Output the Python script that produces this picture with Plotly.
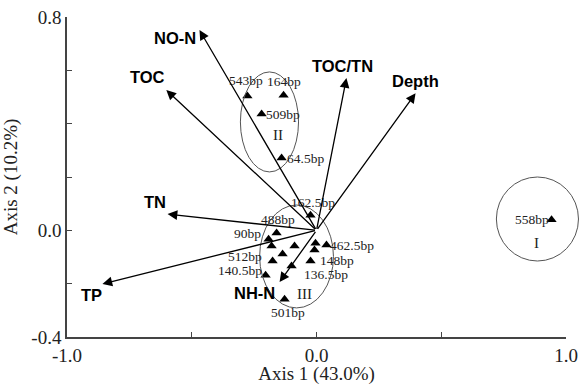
import plotly.graph_objects as go

# ---- data ----
site_labels = ["543bp", "164bp", "509bp", "64.5bp", "162.5bp", "488bp", "90bp", "", "", "",
               "512bp", "140.5bp", "", "", "148bp", "462.5bp", "136.5bp", "501bp", "558bp"]
site_x = [-0.277, -0.132, -0.220, -0.140, -0.024, -0.160, -0.192, -0.180, -0.088, -0.136,
          -0.176, -0.204, -0.100, -0.004, -0.008, 0.040, -0.024, -0.128, 0.942]
site_y = [0.504, 0.507, 0.436, 0.271, 0.057, -0.010, -0.033, -0.059, -0.059, -0.089,
          -0.115, -0.168, -0.134, -0.048, -0.074, -0.055, -0.115, -0.258, 0.040]
# label offsets in pixels (style)
site_label_shift = [(-1, 15), (0, 14), (21, 0), (24, 0), (2, 13), (1, 14), (-21, 6), (0, 0),
                    (0, 0), (0, 0), (-28, 5), (-26, 5), (0, 0), (0, 0), (22, -10), (26, 0),
                    (15, -13), (3, -13), (-20, 0)]

env_names = ["NO-N", "TOC", "TOC/TN", "Depth", "TN", "TP", "NH-N"]
env_x = [-0.469, -0.602, 0.120, 0.397, -0.597, -0.858, -0.148]
env_y = [0.751, 0.526, 0.571, 0.514, 0.061, -0.201, -0.194]
env_label_shift = [(-24, -8), (-19, 13), (-4, 12), (0, 12), (-13, 12), (-11, -11), (-25, -11)]

group_names = ["I", "II", "III"]
group_x0 = [0.721, -0.305, -0.228]
group_x1 = [1.050, -0.072, 0.068]
group_y0 = [-0.115, 0.219, -0.291]
group_y1 = [0.200, 0.594, 0.095]
group_label_x = [0.882, -0.156, -0.048]
group_label_y = [-0.048, 0.357, -0.239]

x_range = [-1.0, 1.0]
y_range = [-0.4, 0.8]
x_tickvals = [-1.0, -0.5, 0.0, 0.5, 1.0]
x_ticktext = ["-1.0", "", "0.0", "", "1.0"]
y_tickvals = [-0.4, -0.2, 0.0, 0.2, 0.4, 0.6, 0.8]
y_ticktext = ["-0.4", "", "0.0", "", "", "", "0.8"]

SERIF = "Liberation Serif, Times New Roman, serif"
SANS = "Liberation Sans, Arial, sans-serif"

fig = go.Figure()
fig.add_trace(go.Scatter(
    x=site_x, y=site_y, mode="markers",
    marker=dict(symbol="triangle-up", size=9, color="black"),
    cliponaxis=False, showlegend=False, hoverinfo="skip",
))

annotations = []
for lab, sx_, sy_, (dx, dy) in zip(site_labels, site_x, site_y, site_label_shift):
    if lab:
        annotations.append(dict(x=sx_, y=sy_, xref="x", yref="y", text=lab, showarrow=False,
                                xshift=dx, yshift=dy,
                                font=dict(family=SERIF, size=13.5, color="#222")))
for name, ex, ey, (sx, sy) in zip(env_names, env_x, env_y, env_label_shift):
    annotations.append(dict(x=ex, y=ey, ax=0, ay=0, xref="x", yref="y", axref="x", ayref="y",
                            text="", showarrow=True, arrowhead=2, arrowsize=1.5,
                            arrowwidth=1.3, arrowcolor="black", standoff=0))
    annotations.append(dict(x=ex, y=ey, xref="x", yref="y", text="<b>%s</b>" % name,
                            showarrow=False, xshift=sx, yshift=sy,
                            font=dict(family=SANS, size=16.5, color="black")))
for gname, gx, gy in zip(group_names, group_label_x, group_label_y):
    annotations.append(dict(x=gx, y=gy, xref="x", yref="y", text=gname, showarrow=False,
                            font=dict(family=SERIF, size=15, color="#222")))

def to_px(v, r):
    return (v - r[0]) / (r[1] - r[0])

shapes = []
for x0, x1, y0, y1 in zip(group_x0, group_x1, group_y0, group_y1):
    shapes.append(dict(type="circle", xref="paper", yref="paper",
                       x0=to_px(x0, x_range), x1=to_px(x1, x_range),
                       y0=to_px(y0, y_range), y1=to_px(y1, y_range),
                       line=dict(color="#555", width=1)))

axis_common = dict(showgrid=False, zeroline=False, showline=True, linecolor="#444",
                   linewidth=1.5, ticks="inside", ticklen=5, tickcolor="#444", tickwidth=1.2,
                   mirror=False, automargin=False,
                   tickfont=dict(family=SERIF, size=19, color="#222"))
fig.update_xaxes(range=x_range, tickvals=x_tickvals, ticktext=x_ticktext,
                 title=dict(text="Axis 1 (43.0%)", font=dict(family=SERIF, size=19, color="#222")),
                 **axis_common)
fig.update_yaxes(range=y_range, tickvals=y_tickvals, ticktext=y_ticktext,
                 title=dict(text="Axis 2 (10.2%)", font=dict(family=SERIF, size=19, color="#222")),
                 **axis_common)

fig.update_layout(width=580, height=385, margin=dict(l=67, r=14, t=17, b=48),
                  plot_bgcolor="white", paper_bgcolor="white",
                  annotations=annotations, shapes=shapes)
fig.write_html("out.html", config={"displayModeBar": False},
               post_script="document.body.style.margin='0';")
